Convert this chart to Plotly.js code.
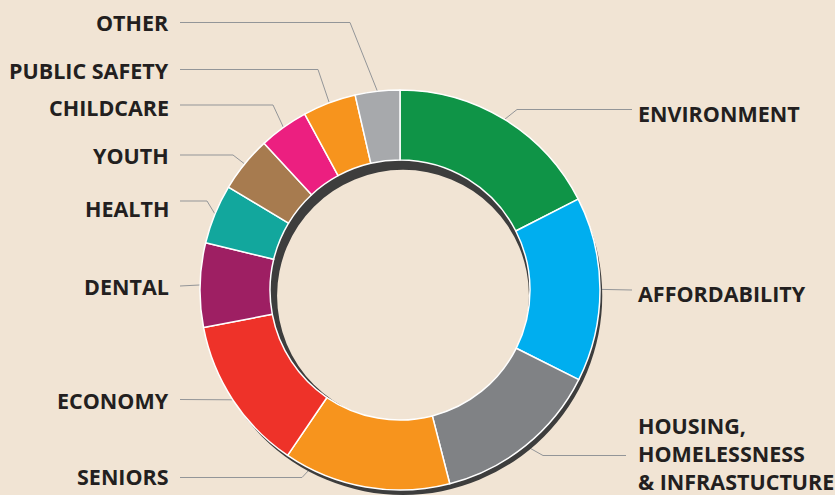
<!DOCTYPE html>
<html><head><meta charset="utf-8">
<script src="https://cdn.plot.ly/plotly-3.0.1.min.js"></script>
<style>html,body{margin:0;padding:0;background:#f1e4d4;overflow:hidden}#chart{width:835px;height:495px}</style>
</head><body><div id="chart"></div>
<script>
// ---- data ----
const categories = ['ENVIRONMENT', 'AFFORDABILITY', 'HOUSING, HOMELESSNESS & INFRASTUCTURE', 'SENIORS', 'ECONOMY', 'DENTAL', 'HEALTH', 'YOUTH', 'CHILDCARE', 'PUBLIC SAFETY', 'OTHER'];
const labelText = ['ENVIRONMENT', 'AFFORDABILITY', 'HOUSING,<br>HOMELESSNESS<br>& INFRASTUCTURE', 'SENIORS', 'ECONOMY', 'DENTAL', 'HEALTH', 'YOUTH', 'CHILDCARE', 'PUBLIC SAFETY', 'OTHER'];
const shares = [17.5, 14.9, 13.6, 13.5, 12.5, 6.8, 4.8, 4.5, 4.0, 4.3, 3.6];
const colors = ['#0f9447', '#00aeef', '#808285', '#f7941d', '#ee3229', '#9e1f63', '#12a79d', '#a77b4f', '#ec1f80', '#f7941d', '#a7a9ac'];

// ---- layout (pixels) ----
const W = 835, H = 495;
const CX = 400, CY = 290, R = 200, HOLE = 0.65;
const SH = {dx: 3, dy: 6, hole: 0.632};
// per-label placement: side, text centre y, leader y, elbow x, anchor fraction along slice
const place = [
  {side: 'R', ty: 113, ly: 109.5, ex: 517, f: 0.5, sx: 632},
  {side: 'R', ty: 293.5, ly: 290, ex: null, f: 0.5, sx: 632},
  {side: 'R', ty: 453, ly: 455.5, ex: 543, f: 0.5, sx: 626},
  {side: 'L', ty: 476, ly: 477.5, ex: 302, f: 0.845, sx: 180},
  {side: 'L', ty: 400, ly: 399.5, ex: null, f: 0.5, sx: 180},
  {side: 'L', ty: 286.5, ly: 286, ex: null, f: 0.5, sx: 180},
  {side: 'L', ty: 208, ly: 201, ex: 207, f: 0.5, sx: 180},
  {side: 'L', ty: 155, ly: 155, ex: 233, f: 0.5, sx: 180},
  {side: 'L', ty: 107, ly: 105, ex: 273, f: 0.5, sx: 180},
  {side: 'L', ty: 70, ly: 69.5, ex: 318, f: 0.5, sx: 180},
  {side: 'L', ty: 22.5, ly: 22.5, ex: 350, f: 0.5, sx: 180}
];
const px = x => x / W, py = y => 1 - y / H;

const shadow = {
  type: 'pie', values: [1], labels: ['shadow'], sort: false,
  marker: {colors: ['#3d3d3d'], line: {width: 0}},
  hole: SH.hole, textinfo: 'none', hoverinfo: 'skip', showlegend: false,
  domain: {x: [px(CX + SH.dx - R + 0.5), px(CX + SH.dx + R - 0.5)], y: [0, py(CY + SH.dy - R + 0.5)]}
};
const main = {
  type: 'pie', values: shares, labels: categories, sort: false,
  direction: 'clockwise', rotation: 0,
  marker: {colors: colors, line: {color: '#ffffff', width: 1.5}},
  hole: HOLE, textinfo: 'none', hoverinfo: 'label+value', showlegend: false,
  domain: {x: [px(CX - R), px(CX + R)], y: [py(CY + R), py(CY - R)]}
};

const total = shares.reduce((a, b) => a + b, 0);
const shapes = [], annotations = [];
let cum = 0;
const font = {family: 'Open Sans', size: 21.5, color: '#231f20', weight: 700};
shares.forEach((v, i) => {
  const p = place[i];
  const a = (cum + v * p.f) / total * 2 * Math.PI;
  cum += v;
  const ax = CX + R * Math.sin(a), ay = CY - R * Math.cos(a);
  let path = `M ${px(p.sx)},${py(p.ly)}`;
  if (p.ex !== null) path += ` L ${px(p.ex)},${py(p.ly)}`;
  path += ` L ${px(ax)},${py(ay)}`;
  shapes.push({type: 'path', xref: 'paper', yref: 'paper', path: path, layer: 'below', line: {color: '#939598', width: 1}});
  annotations.push({
    text: labelText[i], showarrow: false, xref: 'paper', yref: 'paper', align: 'left',
    x: p.side === 'L' ? px(170) : px(637), xanchor: p.side === 'L' ? 'right' : 'left',
    y: py(p.ty), yanchor: 'middle', font: font, borderpad: 0
  });
});

Plotly.newPlot('chart', [shadow, main], {
  width: W, height: H, margin: {l: 0, r: 0, t: 0, b: 0},
  paper_bgcolor: '#f1e4d4', plot_bgcolor: '#f1e4d4',
  showlegend: false, shapes: shapes, annotations: annotations
}, {displayModeBar: false, staticPlot: true});
</script></body></html>
